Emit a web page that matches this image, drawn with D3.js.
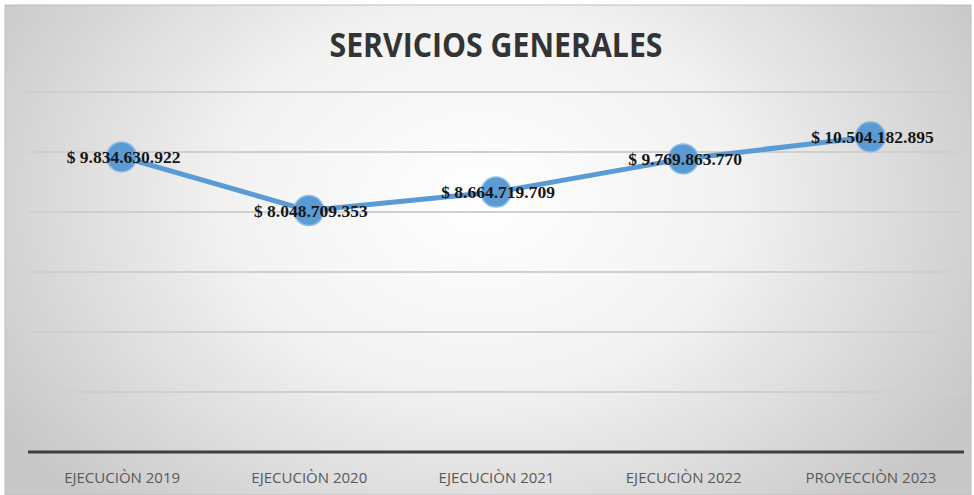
<!DOCTYPE html>
<html>
<head>
<meta charset="utf-8">
<script src="https://cdn.jsdelivr.net/npm/d3@7"></script>
<style>
  html, body { margin: 0; padding: 0; background: #fff; }
  svg { display: block; }
</style>
</head>
<body>
<div id="chart"></div>
<script>
// Data
const categories = ["EJECUCIÒN 2019", "EJECUCIÒN 2020", "EJECUCIÒN 2021", "EJECUCIÒN 2022", "PROYECCIÒN 2023"];
const values = [9834630922, 8048709353, 8664719709, 9769863770, 10504182895];
const valueLabels = ["$ 9.834.630.922", "$ 8.048.709.353", "$ 8.664.719.709", "$ 9.769.863.770", "$ 10.504.182.895"];
const gridTicks = [2e9, 4e9, 6e9, 8e9, 10e9, 12e9];

const width = 974;
const height = 495;

const svg = d3.select("#chart")
  .append("svg")
    .attr("width", width)
    .attr("height", height);

const defs = svg.append("defs");

// Background gradient, light in the middle, grey at the edges
const bg = defs.append("radialGradient")
    .attr("id", "bg")
    .attr("gradientUnits", "userSpaceOnUse")
    .attr("cx", 480).attr("cy", 200).attr("r", 560)
    .attr("gradientTransform", "translate(480,200) scale(1,0.75) translate(-480,-200)");
bg.append("stop").attr("offset", "0%").attr("stop-color", "#ffffff");
bg.append("stop").attr("offset", "45%").attr("stop-color", "#f2f2f2");
bg.append("stop").attr("offset", "100%").attr("stop-color", "#c8c8c8");

svg.append("rect")
    .attr("x", 0).attr("y", 0)
    .attr("width", width).attr("height", height)
    .attr("fill", "#ffffff");

svg.append("rect")
    .attr("x", 5).attr("y", 5)
    .attr("width", width - 8).attr("height", height - 5)
    .attr("fill", "url(#bg)")
    .attr("stroke", "#bdbdbd")
    .attr("stroke-width", 1);

// Scales
const x = d3.scalePoint()
    .domain(categories)
    .range([28, 964])
    .padding(0.5);

const y = d3.scaleLinear()
    .domain([0, 12e9])
    .range([452, 92]);

// Gridlines
svg.append("g")
  .selectAll("line")
  .data(gridTicks)
  .enter().append("line")
    .attr("x1", 28).attr("x2", 964)
    .attr("y1", d => y(d)).attr("y2", d => y(d))
    .attr("stroke", "#cfcfcf")
    .attr("stroke-width", 1.8);

// Category axis
const xAxis = svg.append("g")
    .attr("transform", `translate(0,${y(0)})`)
    .call(d3.axisBottom(x).tickSize(0).tickPadding(0));
xAxis.select(".domain")
    .attr("d", "M28,0H964")
    .attr("stroke", "#3f3f3f")
    .attr("stroke-width", 3);
xAxis.selectAll("text")
    .attr("y", 31)
    .attr("dy", 0)
    .attr("fill", "#595959")
    .style("font-family", "'Open Sans', sans-serif")
    .style("font-size", "15px");

// Title
svg.append("text")
    .attr("x", 496)
    .attr("y", 57)
    .attr("text-anchor", "middle")
    .attr("textLength", 333)
    .attr("lengthAdjust", "spacingAndGlyphs")
    .attr("fill", "#333333")
    .style("font-family", "'Liberation Sans Narrow', 'Open Sans', sans-serif")
    .style("font-weight", "bold")
    .style("font-size", "34px")
    .text("SERVICIOS GENERALES");

// Line
const points = categories.map((c, i) => ({ cat: c, value: values[i], label: valueLabels[i] }));

const line = d3.line()
    .x(d => x(d.cat))
    .y(d => y(d.value));

svg.append("path")
    .datum(points)
    .attr("d", line)
    .attr("fill", "none")
    .attr("stroke", "#5b9bd5")
    .attr("stroke-width", 5)
    .attr("stroke-linejoin", "round");

// Markers
svg.append("g")
  .selectAll("circle")
  .data(points)
  .enter().append("circle")
    .attr("cx", d => x(d.cat))
    .attr("cy", d => y(d.value))
    .attr("r", 15)
    .attr("fill", "#5b9bd5")
    .attr("stroke", "#8fbde6")
    .attr("stroke-width", 1.5);

// Data labels
svg.append("g")
  .selectAll("text")
  .data(points)
  .enter().append("text")
    .attr("x", d => x(d.cat) + 2)
    .attr("y", d => y(d.value) + 6)
    .attr("text-anchor", "middle")
    .attr("fill", "#151515")
    .style("font-family", "'Liberation Serif', 'Times New Roman', serif")
    .style("font-weight", "bold")
    .style("font-size", "17.5px")
    .text(d => d.label);
</script>
</body>
</html>
